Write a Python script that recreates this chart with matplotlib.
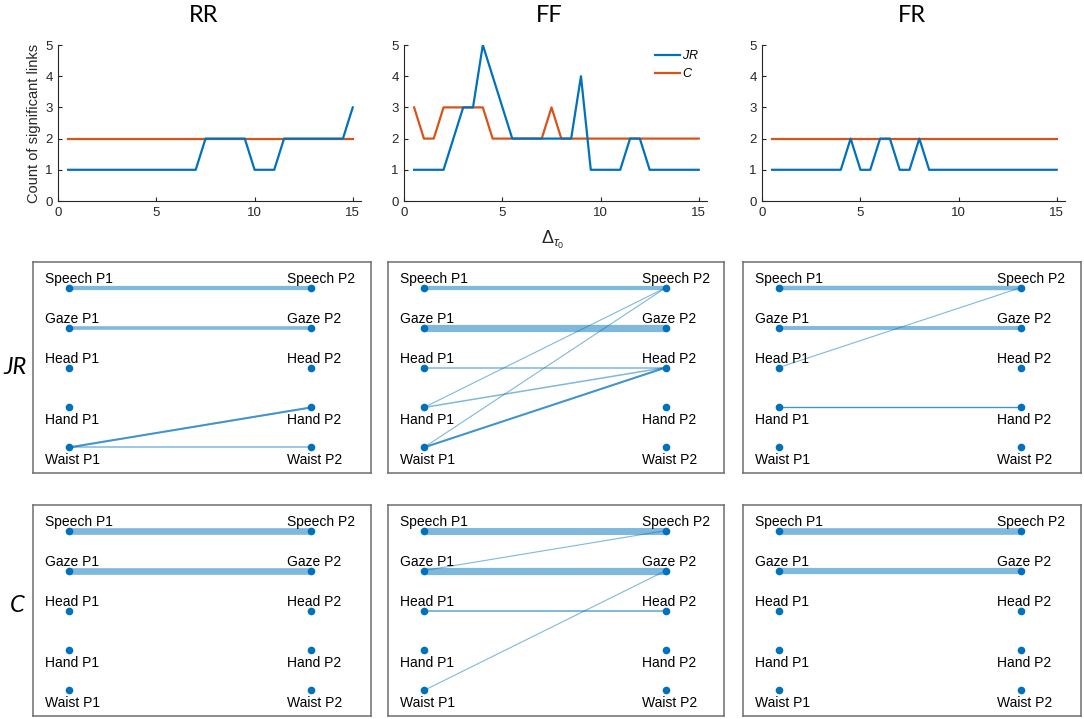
import matplotlib
matplotlib.use("Agg")
import matplotlib.pyplot as plt
import numpy as np

plt.rcParams['font.family'] = ['Liberation Sans', 'DejaVu Sans']
plt.rcParams['mathtext.fontset'] = 'custom'
plt.rcParams['mathtext.rm'] = 'Liberation Sans'
plt.rcParams['mathtext.it'] = 'Liberation Sans:italic'

# ---------------- data ----------------
delta = [0.5, 1.0, 1.5, 2.0, 2.5, 3.0, 3.5, 4.0, 4.5, 5.0, 5.5, 6.0, 6.5, 7.0, 7.5,
         8.0, 8.5, 9.0, 9.5, 10.0, 10.5, 11.0, 11.5, 12.0, 12.5, 13.0, 13.5, 14.0, 14.5, 15.0]

rr_jr = [1, 1, 1, 1, 1, 1, 1, 1, 1, 1, 1, 1, 1, 1, 2, 2, 2, 2, 2, 1, 1, 1, 2, 2, 2, 2, 2, 2, 2, 3]
rr_c  = [2] * 30
ff_jr = [1, 1, 1, 1, 2, 3, 3, 5, 4, 3, 2, 2, 2, 2, 2, 2, 2, 4, 1, 1, 1, 1, 2, 2, 1, 1, 1, 1, 1, 1]
ff_c  = [3, 2, 2, 3, 3, 3, 3, 3, 2, 2, 2, 2, 2, 2, 3, 2, 2, 2, 2, 2, 2, 2, 2, 2, 2, 2, 2, 2, 2, 2]
fr_jr = [1, 1, 1, 1, 1, 1, 1, 1, 2, 1, 1, 2, 2, 1, 1, 2, 1, 1, 1, 1, 1, 1, 1, 1, 1, 1, 1, 1, 1, 1]
fr_c  = [2] * 30

conditions = ['RR', 'FF', 'FR']
measures = ['JR', 'C']
modalities = ['Speech', 'Gaze', 'Head', 'Hand', 'Waist']
x_ticks = [0, 5, 10, 15]
y_ticks = [0, 1, 2, 3, 4, 5]

# edges: (modality of P1, modality of P2, weight)
edges = {
    ('RR', 'JR'): [('Speech', 'Speech', 3.0), ('Gaze', 'Gaze', 2.6),
                   ('Waist', 'Hand', 1.4), ('Waist', 'Hand', 1.4), ('Waist', 'Waist', 1.1)],
    ('RR', 'C'):  [('Speech', 'Speech', 4.8), ('Gaze', 'Gaze', 4.8)],
    ('FF', 'JR'): [('Speech', 'Speech', 3.0), ('Gaze', 'Gaze', 5.2), ('Head', 'Head', 1.1),
                   ('Hand', 'Speech', 0.8), ('Hand', 'Head', 1.1), ('Waist', 'Speech', 0.8),
                   ('Waist', 'Head', 1.4), ('Waist', 'Head', 1.4)],
    ('FF', 'C'):  [('Speech', 'Speech', 5.0), ('Gaze', 'Gaze', 5.2), ('Gaze', 'Speech', 0.8),
                   ('Head', 'Head', 1.4), ('Waist', 'Gaze', 0.8)],
    ('FR', 'JR'): [('Speech', 'Speech', 3.2), ('Gaze', 'Gaze', 2.8), ('Head', 'Speech', 0.8),
                   ('Hand', 'Hand', 0.9), ('Hand', 'Hand', 0.9)],
    ('FR', 'C'):  [('Speech', 'Speech', 4.8), ('Gaze', 'Gaze', 4.5)],
}

series = {'RR': (rr_jr, rr_c), 'FF': (ff_jr, ff_c), 'FR': (fr_jr, fr_c)}

BLUE = '#0072BD'
ORANGE = '#D95319'
AX = '#262626'

W, H = 1084, 719
fig = plt.figure(figsize=(W / 100, H / 100), dpi=100)

def fx(px):
    return px / W

def fy(py):
    return 1 - py / H

# ---------------- top line plots ----------------
top_left = {'RR': 58.3, 'FF': 404.3, 'FR': 762.3}
title_x = {'RR': 204, 'FF': 549, 'FR': 912}
unit = 19.63
for cond in conditions:
    l = top_left[cond]
    ax = fig.add_axes([fx(l), fy(201), fx(15.4 * unit), 156 / H])
    jr, c = series[cond]
    ax.plot(delta, jr, color=BLUE, lw=1.6, label='$\\it{JR}$', zorder=3)
    ax.plot(delta, c, color=ORANGE, lw=1.6, label='$\\it{C}$', zorder=2)
    ax.set_xlim(0, 15.4)
    ax.set_ylim(0, 5)
    ax.set_xticks(x_ticks)
    ax.set_yticks(y_ticks)
    for s in ['top', 'right']:
        ax.spines[s].set_visible(False)
    for s in ['left', 'bottom']:
        ax.spines[s].set_color(AX)
        ax.spines[s].set_linewidth(0.8)
    ax.tick_params(direction='in', length=3, width=0.8, colors=AX, labelsize=9.5, pad=4)
    ax.set_facecolor('none')
    fig.text(fx(title_x[cond]), fy(15), cond, ha='center', va='center',
             fontsize=17, family='Lato', color='black')
    if cond == 'RR':
        ax.set_ylabel('Count of significant links', fontsize=10.5, color=AX, labelpad=3)
    if cond == 'FF':
        ax.legend(loc='upper right', bbox_to_anchor=(1.0, 1.02), frameon=False,
                  fontsize=9, handlelength=2.0, handletextpad=0.2, labelspacing=0.4,
                  borderaxespad=0.2)
        fig.text(fx(553), fy(240), r'$\Delta_{\tau_0}$', ha='center', va='center',
                 fontsize=13, color=AX)

# ---------------- network panels ----------------
box_left = {'RR': 33, 'FF': 388, 'FR': 743}
box_w = {'RR': 338, 'FF': 336, 'FR': 338}
box_top = {'JR': 262, 'C': 505}
box_h = 211
ypos = {m: 5 - i for i, m in enumerate(modalities)}
x1, x2 = 0.0, 1.0

for meas in measures:
    for cond in conditions:
        l = box_left[cond]
        w = box_w[cond]
        ax = fig.add_axes([fx(l), fy(box_top[meas] + box_h), w / W, box_h / H])
        ppu = 242.0
        ax.set_xlim(-36 / ppu, -36 / ppu + w / ppu)
        ax.set_ylim(0.36, 5.64)
        ax.set_xticks([])
        ax.set_yticks([])
        for s in ax.spines.values():
            s.set_color('#6e6e6e')
            s.set_linewidth(1.1)
        for a, b, wt in edges[(cond, meas)]:
            ax.plot([x1, x2], [ypos[a], ypos[b]], color=BLUE, alpha=0.5,
                    lw=wt, solid_capstyle='butt', zorder=2)
        for m in modalities:
            for xx, tag in [(x1, 'P1'), (x2, 'P2')]:
                ax.plot([xx], [ypos[m]], 'o', color=BLUE, ms=5.5, mec='none', zorder=3)
                if m in ('Speech', 'Gaze', 'Head'):
                    ty = ypos[m] + 0.11
                else:
                    ty = ypos[m] - 0.41
                ax.text(xx - 0.101, ty, f'{m} {tag}', ha='left', va='baseline',
                        fontsize=10, color='black', zorder=4)

fig.text(fx(15), fy(367), 'JR', ha='center', va='center', fontsize=17,
         family='Lato', style='italic', color='black')
fig.text(fx(17), fy(606), 'C', ha='center', va='center', fontsize=17,
         family='Lato', style='italic', color='black')

fig.savefig('out.png', dpi=100)
